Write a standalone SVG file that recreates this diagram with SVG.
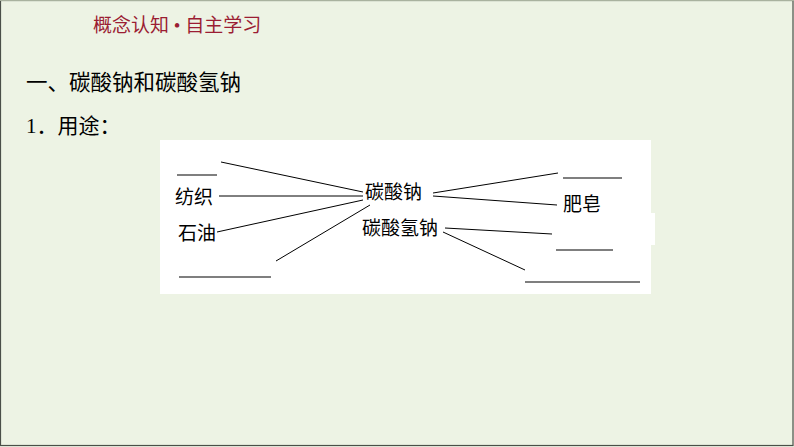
<svg xmlns="http://www.w3.org/2000/svg" width="794" height="447" viewBox="0 0 794 447">
<style>
.t{font-family:"Liberation Serif","Noto Sans CJK SC",serif;fill:#000}
.c line{stroke:#000;stroke-width:1}
.b{stroke:#000;stroke-width:1.2}
</style>
<rect x="0" y="0" width="794" height="447" fill="#edf3e4"/>
<rect x="0.5" y="0.5" width="792.5" height="445" fill="none" stroke="#4a4f48" stroke-width="1.2"/>
<line x1="0" y1="0.5" x2="794" y2="0.5" stroke="#a9b29f" stroke-width="1"/>
<g id="title"><text class="t" x="93" y="32" font-size="19" style="fill:#9b1d33">概念认知 • 自主学习</text></g>
<g id="heading"><text class="t" x="26" y="90" font-size="21.5">一、碳酸钠和碳酸氢钠</text></g>
<g id="sub"><text class="t" x="26" y="133" font-size="21">1．用途：</text></g>
<g id="box">
<rect x="160" y="140" width="491" height="154" fill="#fff"/>
<rect x="645" y="213" width="10" height="32" fill="#fff"/>
</g>
<g id="n-na2co3"><text class="t" x="365" y="199" font-size="19">碳酸钠</text></g>
<g id="n-nahco3"><text class="t" x="362" y="235" font-size="19">碳酸氢钠</text></g>
<g id="n-blank1"><line class="b" x1="177" y1="175" x2="217" y2="175"/></g>
<g id="n-fangzhi"><text class="t" x="175" y="204" font-size="19">纺织</text></g>
<g id="n-shiyou"><text class="t" x="178" y="240" font-size="19">石油</text></g>
<g id="n-blank2"><line class="b" x1="179" y1="277" x2="271" y2="277"/></g>
<g id="n-blank3"><line class="b" x1="563" y1="178" x2="622" y2="178"/></g>
<g id="n-feizao"><text class="t" x="563" y="211" font-size="19">肥皂</text></g>
<g id="n-blank4"><line class="b" x1="556" y1="250" x2="613" y2="250"/></g>
<g id="n-blank5"><line class="b" x1="525" y1="282" x2="640" y2="282"/></g>
<g id="connectors" class="c">
<line x1="221" y1="162" x2="363" y2="192"/>
<line x1="219" y1="196" x2="363" y2="196"/>
<line x1="217" y1="232" x2="363" y2="200"/>
<line x1="276" y1="261" x2="370" y2="205"/>
<line x1="433" y1="193" x2="558" y2="173"/>
<line x1="433" y1="196" x2="557" y2="205"/>
<line x1="445" y1="228" x2="552" y2="234"/>
<line x1="443" y1="232" x2="525" y2="270"/>
</g>
</svg>
